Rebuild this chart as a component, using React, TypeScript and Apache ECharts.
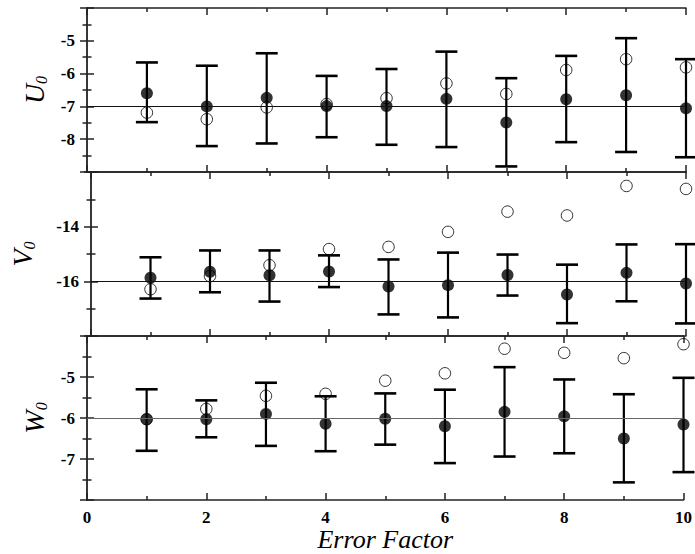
import React, { useEffect, useRef } from "react";
import * as echarts from "echarts";

const errorFactors = [1, 2, 3, 4, 5, 6, 7, 8, 9, 10];
const xTickLabels = ["0", "2", "4", "6", "8", "10"];

const uFilled = [-6.6, -7.0, -6.74, -6.99, -6.99, -6.77, -7.49, -6.78, -6.66, -7.06];
const uOpen = [-7.19, -7.39, -7.03, -6.93, -6.75, -6.3, -6.62, -5.89, -5.56, -5.81];
const uHigh = [-5.66, -5.76, -5.38, -6.07, -5.86, -5.33, -6.14, -5.46, -4.92, -5.56];
const uLow = [-7.48, -8.21, -8.13, -7.94, -8.17, -8.24, -8.83, -8.09, -8.39, -8.55];

const vFilled = [-15.87, -15.65, -15.78, -15.64, -16.19, -16.14, -15.77, -16.48, -15.69, -16.08];
const vOpen = [-16.29, -15.81, -15.41, -14.82, -14.74, -14.19, -13.45, -13.59, -12.51, -12.62];
const vHigh = [-15.12, -14.87, -14.87, -15.05, -15.2, -14.95, -15.02, -15.39, -14.65, -14.64];
const vLow = [-16.63, -16.4, -16.74, -16.21, -17.21, -17.32, -16.52, -17.53, -16.73, -17.54];

const wFilled = [-6.03, -6.03, -5.9, -6.14, -6.02, -6.2, -5.85, -5.96, -6.5, -6.16];
const wOpen = [-6.03, -5.78, -5.46, -5.41, -5.09, -4.91, -4.31, -4.41, -4.54, -4.2];
const wHigh = [-5.3, -5.57, -5.14, -5.47, -5.4, -5.31, -4.76, -5.06, -5.42, -5.02];
const wLow = [-6.8, -6.47, -6.68, -6.81, -6.65, -7.1, -6.94, -6.86, -7.57, -7.32];

const referenceValues = [-7, -16, -6];
const yNames = ["U", "V", "W"];
const yRanges = [
  { min: -9, max: -4, interval: 1 },
  { min: -18, max: -12, interval: 2 },
  { min: -8, max: -4, interval: 1 },
];

const panels = [
  { filled: uFilled, open: uOpen, high: uHigh, low: uLow },
  { filled: vFilled, open: vOpen, high: vHigh, low: vLow },
  { filled: wFilled, open: wOpen, high: wHigh, low: wLow },
];

const SERIF = "'Liberation Serif', 'Times New Roman', serif";
const FRAME = "#222";

export default function App() {
  const ref = useRef<HTMLDivElement>(null);

  useEffect(() => {
    if (!ref.current) return;
    const chart = echarts.init(ref.current, null, { renderer: "svg" });

    const gridTops = [8, 172, 336];
    const grid = gridTops.map((t) => ({ left: 87, right: 9, top: t, height: 164, containLabel: false }));

    const tickStyle = { color: FRAME, width: 1.5 };
    const xAxis: any[] = [];
    const yAxis: any[] = [];
    const series: any[] = [];
    const nameGaps = [37, 54, 37];
    const refColors = ["#111", "#111", "#666"];

    for (let i = 0; i < 3; i++) {
      const base = {
        gridIndex: i,
        type: "value",
        min: 0,
        max: 10,
        interval: 2,
        axisLine: { show: true, lineStyle: { color: FRAME, width: 1.5 } },
        axisTick: { show: true, inside: true, length: 7, lineStyle: tickStyle },
        minorTick: { show: true, splitNumber: 2, length: 4, lineStyle: tickStyle },
        splitLine: { show: false },
        minorSplitLine: { show: false },
      };
      xAxis.push({
        ...base,
        position: "bottom",
        axisLabel: {
          show: i === 2,
          margin: 9,
          color: "#000",
          fontFamily: SERIF,
          fontWeight: "bold",
          fontSize: 17,
          formatter: (v: number) => xTickLabels[Math.round(v / 2)] ?? "",
        },
        ...(i === 2
          ? {
              name: "Error Factor",
              nameLocation: "middle",
              nameGap: 26,
              nameTextStyle: { fontFamily: SERIF, fontStyle: "italic", fontSize: 26, color: "#000" },
            }
          : {}),
      });
      xAxis.push({ ...base, position: "top", axisLabel: { show: false } });

      const r = yRanges[i];
      const yBase = {
        gridIndex: i,
        type: "value",
        min: r.min,
        max: r.max,
        interval: r.interval,
        axisTick: { show: true, inside: true, length: 7, lineStyle: tickStyle },
        minorTick: { show: true, splitNumber: 2, length: 4.5, lineStyle: tickStyle },
        splitLine: { show: false },
        minorSplitLine: { show: false },
      };
      yAxis.push({
        ...yBase,
        position: "left",
        axisLine: { show: true, lineStyle: { color: "#777", width: 2 } },
        axisLabel: {
          show: true,
          showMinLabel: false,
          showMaxLabel: false,
          margin: 12,
          color: "#000",
          fontFamily: SERIF,
          fontWeight: "bold",
          fontSize: 17,
        },
        name: `{a|${yNames[i]}}{b|0}`,
        nameLocation: "middle",
        nameRotate: 90,
        nameGap: nameGaps[i],
        nameTextStyle: {
          rich: {
            a: { fontFamily: SERIF, fontStyle: "italic", fontSize: 28, color: "#000", lineHeight: 30 },
            b: { fontFamily: SERIF, fontStyle: "italic", fontSize: 16, color: "#000", verticalAlign: "bottom", lineHeight: 24 },
          },
        },
      });
      yAxis.push({
        ...yBase,
        position: "right",
        axisLine: { show: true, lineStyle: { color: FRAME, width: 1.5 } },
        axisLabel: { show: false },
      });

      const p = panels[i];
      series.push({
        type: "custom",
        xAxisIndex: 2 * i,
        yAxisIndex: 2 * i,
        clip: false,
        data: errorFactors.map((x, j) => [x, p.low[j], p.high[j]]),
        encode: { x: 0, y: [1, 2] },
        renderItem: (_params: any, api: any) => {
          const x = api.value(0);
          const lo = api.value(1);
          const hi = api.value(2);
          const top = api.coord([x, hi]);
          const bot = api.coord([x, lo]);
          const w = 11;
          return {
            type: "group",
            children: [
              { type: "line", shape: { x1: top[0], y1: top[1], x2: bot[0], y2: bot[1] }, style: { stroke: "#000", lineWidth: 2.2 } },
              { type: "line", shape: { x1: top[0] - w, y1: top[1], x2: top[0] + w, y2: top[1] }, style: { stroke: "#000", lineWidth: 2.6 } },
              { type: "line", shape: { x1: bot[0] - w, y1: bot[1], x2: bot[0] + w, y2: bot[1] }, style: { stroke: "#000", lineWidth: 2.6 } },
            ],
          };
        },
        markLine: {
          silent: true,
          symbol: ["none", "none"],
          label: { show: false },
          lineStyle: { color: refColors[i], width: 1.2, type: "solid" },
          data: [{ yAxis: referenceValues[i] }],
        },
      });
      series.push({
        type: "scatter",
        xAxisIndex: 2 * i,
        yAxisIndex: 2 * i,
        clip: false,
        symbol: "circle",
        symbolSize: 11.5,
        itemStyle: { color: "rgba(0,0,0,0)", borderColor: "#000", borderWidth: 1 },
        data: errorFactors.map((x, j) => [x, p.open[j]]),
      });
      series.push({
        type: "scatter",
        xAxisIndex: 2 * i,
        yAxisIndex: 2 * i,
        clip: false,
        symbol: "circle",
        symbolSize: 12,
        itemStyle: { color: "#000" },
        data: errorFactors.map((x, j) => [x, p.filled[j]]),
      });
    }

    chart.setOption({
      animation: false,
      backgroundColor: "#fff",
      grid,
      xAxis,
      yAxis,
      series,
    });

    return () => chart.dispose();
  }, []);

  return (
    <div
      ref={ref}
      style={{ position: "fixed", left: 0, top: 0, width: 695, height: 554, background: "#fff" }}
    />
  );
}
